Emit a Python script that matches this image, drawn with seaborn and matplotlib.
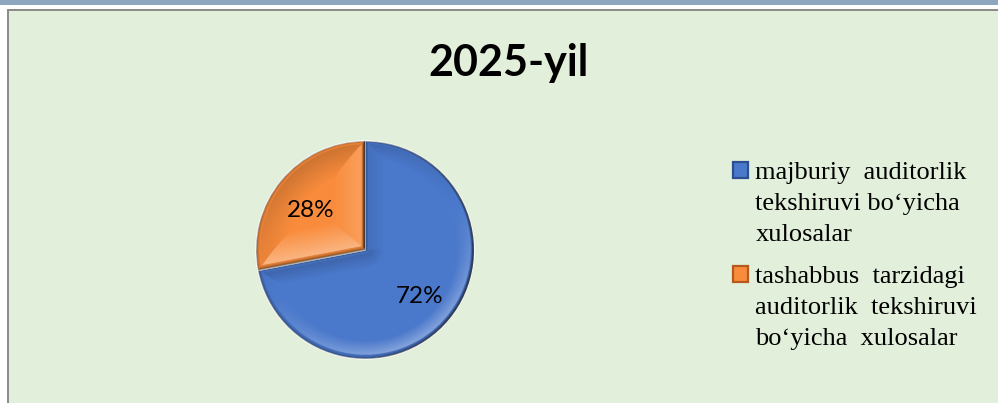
import numpy as np
import matplotlib
matplotlib.use("Agg")
import matplotlib.pyplot as plt
from matplotlib.patches import Patch, Rectangle
import seaborn as sns

title = "2025-yil"
categories = [
    ["majburiy  auditorlik", "tekshiruvi bo\u2018yicha", "xulosalar"],
    ["tashabbus  tarzidagi", "auditorlik  tekshiruvi", "bo\u2018yicha  xulosalar"],
]
values = [72, 28]
colors = sns.color_palette(["#4a78cb", "#f98c3c"])
edge_colors = ["#2c4f8f", "#b5591c"]
bevel_widths = [0.17, 0.3]
bevel_powers = [1.0, 1.0]
legend_tops = [162, 266]

W, H = 998, 403


def bevel(wedge, width, power):
    # shading per pixel: nearest edge of the wedge decides the facet
    xs = np.linspace(-1.02, 1.02, 660)
    x, y = np.meshgrid(xs, xs)
    r = np.hypot(x, y) + 1e-9
    dists = [1 - r]
    nx = [x / r]
    ny = [y / r]
    for t, sign in ((wedge.theta1, 1), (wedge.theta2, -1)):
        t = np.radians(t)
        ux, uy = np.cos(t), np.sin(t)
        ox, oy = sign * uy, -sign * ux
        along = x * ux + y * uy
        dists.append(np.where(along > 0, np.abs(x * ox + y * oy), r))
        nx.append(np.full_like(x, ox))
        ny.append(np.full_like(x, oy))
    dists = np.array(dists)
    idx = dists.argmin(axis=0)
    d = np.take_along_axis(dists, idx[None], 0)[0]
    nx = np.take_along_axis(np.array(nx), idx[None], 0)[0]
    ny = np.take_along_axis(np.array(ny), idx[None], 0)[0]

    profile = np.clip(1 - d / width, 0, 1) ** power
    shade = (0.45 * nx - 0.9 * ny) * profile
    shade = np.where(shade > 0, shade * 0.42, shade * 0.2)
    rim = np.clip(1 - d / 0.035, 0, 1) * (0.35 + 0.65 * np.clip(nx, 0, 1))
    rgba = np.zeros(x.shape + (4,))
    rgba[..., :3] = np.where(shade[..., None] > 0, 1.0, 0.0)
    rgba[..., 3] = np.abs(shade)
    dark = rim > 0.01
    rgba[dark, :3] = 0
    rgba[dark, 3] = rim[dark]
    return rgba


sns.set_theme(style="white")
plt.rcParams["font.family"] = ["Lato", "DejaVu Sans"]

fig = plt.figure(figsize=(W / 100, H / 100), dpi=100, facecolor="white")

# slide background: top band, grey frame, green panel
for x0, y0, w, h, c in [
    (0, 0, W, 5, "#8fa6bf"),
    (7, 9, W - 7, H - 9, "#8c8c88"),
    (9, 11, W - 9, H - 11, "#e2efda"),
]:
    fig.add_artist(Rectangle((x0 / W, 1 - (y0 + h) / H), w / W, h / H,
                             transform=fig.transFigure, fc=c, ec="none", zorder=-5))

cx, cy, rad = 365, 250, 109
m = rad * 1.02
ax = fig.add_axes([(cx - m) / W, 1 - (cy + m) / H, 2 * m / W, 2 * m / H])
ax.patch.set_alpha(0)
wedges, _, pct = ax.pie(
    values,
    colors=colors,
    startangle=90,
    counterclock=False,
    autopct="%d%%",
    pctdistance=0.645,
    textprops={"fontsize": 17.5, "color": "black", "family": "Lato"},
)
for wedge, w, p in zip(wedges, bevel_widths, bevel_powers):
    im = ax.imshow(bevel(wedge, w, p), extent=(-1.02, 1.02, -1.02, 1.02),
                   origin="lower", zorder=2, interpolation="bilinear")
    im.set_clip_path(wedge)
for t, nudge in zip(pct, [-0.02, -0.045]):
    t.set_zorder(5)
    t.set_y(t.get_position()[1] + nudge)
ax.set_xlim(-1.02, 1.02)
ax.set_ylim(-1.02, 1.02)
ax.set_aspect("equal")
ax.axis("off")

fig.text(509 / W, 1 - 63 / H, title, ha="center", va="center",
         fontsize=31, fontweight="bold", color="black")

# one legend per category so the swatch sits on the first text line
for lines, c, e, top in zip(categories, colors, edge_colors, legend_tops):
    handles = [Patch(facecolor=c, edgecolor=e, linewidth=1.6)]
    handles += [Patch(visible=False) for _ in lines[1:]]
    leg = fig.legend(
        handles,
        lines,
        loc="upper left",
        bbox_to_anchor=(733 / W, 1 - top / H),
        frameon=False,
        prop={"family": "Liberation Serif", "size": 19},
        labelcolor="black",
        handlelength=0.55,
        handleheight=0.55,
        handletextpad=0.3,
        labelspacing=0.33,
        borderpad=0,
        borderaxespad=0,
    )

fig.savefig("out.png", dpi=100, facecolor=fig.get_facecolor())
